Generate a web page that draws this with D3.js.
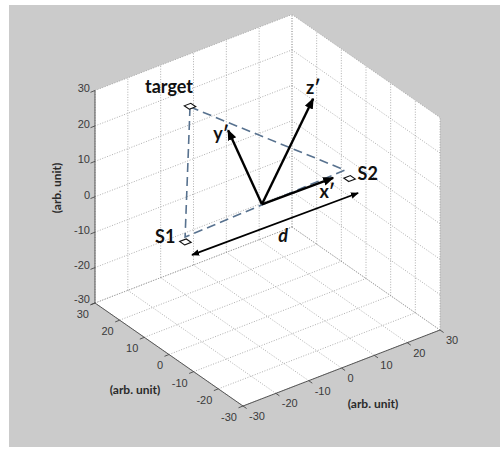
<!DOCTYPE html>
<html>
<head>
<meta charset="utf-8">
<script src="https://cdn.jsdelivr.net/npm/d3@7"></script>
<style>
  html, body { margin: 0; padding: 0; background: #ffffff; }
  svg { display: block; }
  .tick-label { font-family: "Liberation Sans", Arial, sans-serif; font-size: 11px; fill: #3a3a3a; }
  .axis-title { font-family: Lato, "Open Sans", sans-serif; font-size: 12px; font-weight: bold; fill: #2a2a2a; }
  .note { font-family: Lato, "Open Sans", sans-serif; font-size: 18px; font-weight: bold; fill: #111; }
</style>
</head>
<body>
<svg id="chart" width="503" height="450"></svg>
<script>
// ---- data -------------------------------------------------------------
const tickValues = [-30, -20, -10, 0, 10, 20, 30];
const axisTitle = "(arb. unit)";

// plotted positions (x, y, z)
const pointNames = ["target", "S1", "S2"];
const pointX = [-23.6, -25, 25];
const pointY = [0, 0, 0];
const pointZ = [37.8, 0, 0];

// dashed triangle joining target, S1 and S2
const pathX = [-23.6, -25.1, 23.6];
const pathY = [0, 0, 0];
const pathZ = [37.6, 1.4, 2.9];

// local frame x', y', z' (from a common origin) and baseline d
const frameOrigin = [-1.7, 0, 2.3];
const frameNames = ["x\u2032", "y\u2032", "z\u2032"];
const frameTipX = [20.0, -12.0, 13.9];
const frameTipY = [0, 0, 0];
const frameTipZ = [2.0, 26.9, 26.5];
const baseStart = [-23.0, 0, -4.4];
const baseEnd = [27.6, 0, -5.0];
const baseName = "d";

// ---- projection ---------------------------------------------------------
const lim = [-30, 30];
const corner = [243, 406]; // screen position of (-30, -30, -30)
const xs = d3.scaleLinear().domain(lim).range([[0, 0], [197, -76]]);
const ys = d3.scaleLinear().domain(lim).range([[0, 0], [-148, -103]]);
const zs = d3.scaleLinear().domain(lim).range([[0, 0], [0, -212.5]]);
function P(x, y, z) {
  const a = xs(x), b = ys(y), c = zs(z);
  return [corner[0] + a[0] + b[0] + c[0], corner[1] + a[1] + b[1] + c[1]];
}

const svg = d3.select("#chart");
svg.append("rect").attr("x", 9).attr("y", 5).attr("width", 491).attr("height", 442)
  .attr("fill", "#cbcbcb");

const line = d3.line();
const lo = lim[0], hi = lim[1];

// back walls and floor
const walls = [
  [P(lo, hi, lo), P(hi, hi, lo), P(hi, hi, hi), P(lo, hi, hi)],  // y = 30
  [P(hi, lo, lo), P(hi, hi, lo), P(hi, hi, hi), P(hi, lo, hi)],  // x = 30
  [P(lo, lo, lo), P(hi, lo, lo), P(hi, hi, lo), P(lo, hi, lo)]   // z = -30
];
svg.append("g").selectAll("path").data(walls).join("path")
  .attr("d", d => line(d) + "Z").attr("fill", "#ffffff").attr("stroke", "none");

// dotted grid
const grid = [];
tickValues.forEach(v => {
  grid.push([P(v, hi, lo), P(v, hi, hi)]);   // wall y=30, vertical
  grid.push([P(lo, hi, v), P(hi, hi, v)]);   // wall y=30, horizontal
  grid.push([P(hi, v, lo), P(hi, v, hi)]);   // wall x=30, vertical
  grid.push([P(hi, lo, v), P(hi, hi, v)]);   // wall x=30, horizontal
  grid.push([P(v, lo, lo), P(v, hi, lo)]);   // floor, along y
  grid.push([P(lo, v, lo), P(hi, v, lo)]);   // floor, along x
});
svg.append("g").selectAll("path").data(grid).join("path")
  .attr("d", line).attr("fill", "none").attr("stroke", "#9a9a9a")
  .attr("stroke-width", 0.8).attr("stroke-dasharray", "1,1.6");

// axis lines
const axisColor = "#4a4a4a";
const axes = [
  [P(lo, lo, lo), P(hi, lo, lo)],
  [P(lo, lo, lo), P(lo, hi, lo)],
  [P(lo, hi, lo), P(lo, hi, hi)]
];
svg.append("g").selectAll("path").data(axes).join("path")
  .attr("d", line).attr("stroke", axisColor).attr("stroke-width", 0.9).attr("fill", "none");

const ticksG = svg.append("g");
// z axis ticks and labels
tickValues.forEach(v => {
  const p = P(lo, hi, v);
  ticksG.append("line").attr("x1", p[0]).attr("y1", p[1]).attr("x2", p[0] - 4.5).attr("y2", p[1] + 1.8)
    .attr("stroke", axisColor).attr("stroke-width", 0.9);
  ticksG.append("text").attr("class", "tick-label").attr("x", p[0] - 5).attr("y", p[1] - (v === lo ? 3 : 1))
    .attr("text-anchor", "end").attr("dominant-baseline", "middle").text(v);
});
// y axis ticks and labels
tickValues.forEach(v => {
  const p = P(lo, v, lo);
  ticksG.append("line").attr("x1", p[0]).attr("y1", p[1]).attr("x2", p[0] - 4.5).attr("y2", p[1] + 1.8)
    .attr("stroke", axisColor).attr("stroke-width", 0.9);
  ticksG.append("text").attr("class", "tick-label").attr("x", p[0] - 6).attr("y", p[1] + 12)
    .attr("text-anchor", "end").attr("dominant-baseline", "middle").text(v);
});
// x axis ticks and labels
tickValues.forEach(v => {
  const p = P(v, lo, lo);
  ticksG.append("line").attr("x1", p[0]).attr("y1", p[1]).attr("x2", p[0] + 3.6).attr("y2", p[1] + 2.5)
    .attr("stroke", axisColor).attr("stroke-width", 0.9);
  ticksG.append("text").attr("class", "tick-label").attr("x", p[0] + 6).attr("y", p[1] + 11)
    .attr("text-anchor", "start").attr("dominant-baseline", "middle").text(v);
});

// axis titles
svg.append("text").attr("class", "axis-title").attr("transform", "translate(61,188) rotate(-90)")
  .attr("text-anchor", "middle").text(axisTitle);
svg.append("text").attr("class", "axis-title").attr("x", 135).attr("y", 394)
  .attr("text-anchor", "middle").text(axisTitle);
svg.append("text").attr("class", "axis-title").attr("x", 373).attr("y", 408)
  .attr("text-anchor", "middle").text(axisTitle);

// dashed triangle
const tri = pathX.map((x, i) => P(x, pathY[i], pathZ[i]));
svg.append("path").attr("d", line(tri) + "Z").attr("fill", "none")
  .attr("stroke", "#58728f").attr("stroke-width", 1.6).attr("stroke-dasharray", "9,5");

// point markers: small squares lying in the xy plane, edges along x and y
const s = 1;
const markers = svg.append("g");
pointX.forEach((x, i) => {
  const y = pointY[i], z = pointZ[i];
  const sq = [P(x - s, y - s, z), P(x + s, y - s, z), P(x + s, y + s, z), P(x - s, y + s, z)];
  markers.append("path").attr("d", line(sq) + "Z").attr("fill", "#ffffff")
    .attr("stroke", "#111").attr("stroke-width", 1.1);
});

// arrowheads
const defs = svg.append("defs");
function head(id, size) {
  defs.append("marker").attr("id", id).attr("viewBox", "0 -5 10 10")
    .attr("refX", 9).attr("refY", 0).attr("markerUnits", "userSpaceOnUse")
    .attr("markerWidth", size).attr("markerHeight", size).attr("orient", "auto-start-reverse")
    .append("path").attr("d", "M0,-4L10,0L0,4Z").attr("fill", "#000");
}
head("arrowBig", 11);
head("arrowSmall", 8);

const o = P(...frameOrigin);
const tips = frameTipX.map((x, i) => P(x, frameTipY[i], frameTipZ[i]));
svg.append("g").selectAll("line").data(tips).join("line")
  .attr("x1", o[0]).attr("y1", o[1]).attr("x2", d => d[0]).attr("y2", d => d[1])
  .attr("stroke", "#000").attr("stroke-width", 2.4).attr("marker-end", "url(#arrowBig)");

const b0 = P(...baseStart), b1 = P(...baseEnd);
svg.append("line").attr("x1", b0[0]).attr("y1", b0[1]).attr("x2", b1[0]).attr("y2", b1[1])
  .attr("stroke", "#000").attr("stroke-width", 1.8)
  .attr("marker-start", "url(#arrowSmall)").attr("marker-end", "url(#arrowSmall)");

// text annotations
const pts = pointX.map((x, i) => P(x, pointY[i], pointZ[i]));
const notes = svg.append("g");
notes.append("text").attr("class", "note").attr("x", pts[0][0] + 3).attr("y", pts[0][1] - 13)
  .attr("text-anchor", "end").text(pointNames[0]);
notes.append("text").attr("class", "note").attr("x", pts[1][0] - 10).attr("y", pts[1][1] + 1)
  .attr("text-anchor", "end").text(pointNames[1]);
notes.append("text").attr("class", "note").attr("x", pts[2][0] + 8).attr("y", pts[2][1] + 1)
  .attr("text-anchor", "start").text(pointNames[2]);
notes.append("text").attr("class", "note").attr("x", tips[0][0] - 6).attr("y", tips[0][1] + 20)
  .attr("text-anchor", "middle").text(frameNames[0]);
notes.append("text").attr("class", "note").attr("x", tips[1][0] - 7).attr("y", tips[1][1] + 10)
  .attr("text-anchor", "middle").text(frameNames[1]);
notes.append("text").attr("class", "note").attr("x", tips[2][0]).attr("y", tips[2][1] - 5)
  .attr("text-anchor", "middle").text(frameNames[2]);
notes.append("text").attr("class", "note").attr("font-style", "italic")
  .attr("x", (b0[0] + b1[0]) / 2 + 8).attr("y", (b0[1] + b1[1]) / 2 + 18)
  .attr("text-anchor", "middle").text(baseName);
</script>
</body>
</html>
